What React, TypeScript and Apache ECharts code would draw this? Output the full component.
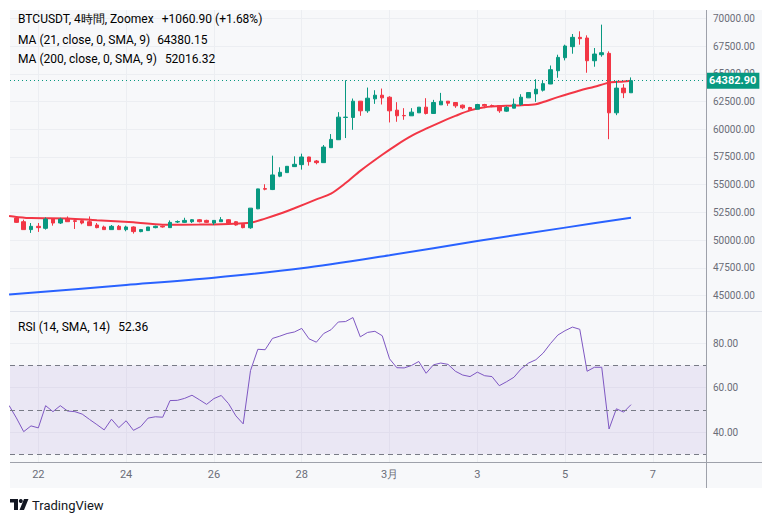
import React, { useEffect, useRef } from 'react';
import * as echarts from 'echarts';

// x position = candle index; index 0 = 22 Feb 00:00, one step = 4 hours
const FIRST_CANDLE = -3;
const OPENS = [
  51995, 51668, 50956, 51253, 51074, 51906, 51550, 51965, 51758, 51758,
  51668, 51371, 51193, 50956, 51253, 50956, 51193, 50777, 50867, 51134,
  51253, 51134, 51640, 51609, 51668, 51847, 51787, 51550, 51668, 51847,
  51668, 51431, 51120, 52830, 54650, 54566, 55770, 56093, 56632, 56811,
  57500, 57141, 56991, 58338, 59057, 61063, 61063, 62530, 61662, 62739,
  63069, 62889, 61722, 61243, 61213, 61482, 61991, 61422, 62200, 62530,
  62410, 62170, 61961, 61811, 62230, 62140, 62140, 61632, 61901, 62230,
  62829, 63188, 63520, 64080, 65275, 66448, 67442, 68284, 68224, 66177,
  66719, 66840, 61482, 63709, 63288,
];
const CLOSES = [
  51609, 50956, 51253, 51134, 51906, 51550, 51906, 51668, 51698, 51550,
  51312, 51134, 50956, 51253, 50956, 51193, 50777, 50956, 51193, 51253,
  51193, 51609, 51680, 51787, 51847, 51668, 51609, 51787, 51847, 51550,
  51371, 51134, 52890, 54626, 54600, 55883, 56123, 56662, 56841, 57500,
  57081, 56991, 58398, 59087, 61093, 61093, 62530, 61662, 62799, 63069,
  62829, 61662, 61213, 61213, 61542, 61991, 61422, 62410, 62530, 62350,
  62111, 61931, 61751, 62230, 62111, 62111, 61662, 61961, 62260, 62889,
  63308, 63608, 64110, 65370, 66478, 67502, 68284, 68164, 66177, 66779,
  66900, 61482, 63709, 63288, 64382.9,
];
const LOWS = [
  51560, 50940, 50659, 50750, 50956, 51312, 51461, 51668, 51015, 51431,
  51312, 51074, 50956, 50956, 50956, 50807, 50599, 50718, 50867, 51074,
  51134, 51134, 51550, 51550, 51550, 51609, 51550, 51371, 51668, 51431,
  51312, 51074, 51030, 52800, 54500, 54520, 55680, 56070, 56600, 56362,
  56722, 56841, 56980, 58320, 59040, 59207, 59955, 61213, 61482, 62290,
  62230, 60614, 60674, 60853, 61200, 61470, 61332, 61410, 62190, 62111,
  61931, 61811, 61660, 61800, 61900, 61990, 61482, 61572, 61890, 62111,
  62820, 62470, 63400, 64070, 64642, 66207, 66809, 67622, 65094, 65636,
  66538, 59104, 61271, 62806, 63288,
];
const HIGHS = [
  52150, 51850, 51550, 51550, 52055, 51965, 52025, 52144, 51965, 51847,
  52144, 51550, 51312, 51371, 51371, 51312, 51253, 51015, 51193, 51312,
  51312, 51787, 51787, 52025, 51906, 51906, 51847, 51787, 52085, 51906,
  51728, 51431, 52900, 54640, 55045, 57620, 56572, 56680, 57560, 57800,
  57520, 57230, 58578, 59566, 61542, 64416, 62769, 62550, 63757, 63518,
  63668, 62979, 62440, 61901, 61901, 62000, 62799, 62650, 63278, 62540,
  62420, 62230, 62020, 62290, 62290, 62230, 62150, 62080, 62769, 63158,
  63320, 64506, 64360, 65745, 66719, 67622, 68585, 68826, 68465, 67321,
  69428, 67020, 64371, 64070, 64672,
];

// moving averages at selected candle positions
const MA21_AT = [-4, -3, -1, 4, 8, 13, 17, 22, 26, 29, 31, 33, 35, 38, 40, 42, 44, 47, 49, 51, 53, 55, 57, 59, 61, 64, 66, 68, 69, 71, 74, 76, 78, 80, 81];
const MA21_VALUES = [52180, 52100, 51995, 51965, 51800, 51609, 51400, 51410, 51470, 51572, 51950, 52380, 52880, 53680, 54200, 55150, 56250, 57700, 58600, 59400, 60050, 60650, 61200, 61700, 61980, 62111, 62170, 62260, 62450, 62900, 63500, 63830, 64200, 64300, 64380.15];
const MA200_AT = [-4, 12, 24, 36, 48, 60, 72, 81];
const MA200_VALUES = [45100, 45963, 46625, 47470, 48651, 49924, 51136, 52016.32];

const RSI_START = -4;
const RSI_VALUES = [
  52.0, 46.4, 40.2, 42.8, 41.9, 51.9, 49.2, 51.9, 49.5, 49.2,
  48.1, 45.7, 43.4, 41.0, 45.8, 42.0, 45.1, 40.8, 42.5, 46.3,
  46.9, 46.7, 54.2, 54.3, 55.2, 56.6, 54.6, 52.5, 55.1, 56.5,
  52.8, 47.3, 43.7, 67.7, 77.3, 77.1, 82.2, 83.2, 84.4, 85.1,
  86.7, 82.0, 80.5, 84.4, 86.1, 89.6, 89.8, 91.6, 82.9, 84.9,
  85.4, 83.4, 73.0, 69.0, 68.9, 70.0, 71.8, 66.5, 70.3, 71.1,
  70.5, 67.4, 65.7, 65.0, 67.0, 65.4, 65.0, 60.9, 62.7, 64.7,
  68.5, 71.1, 72.6, 75.6, 79.9, 83.7, 85.7, 87.3, 86.3, 67.4,
  69.2, 69.2, 41.4, 50.5, 49.0, 52.36,
];

const TIME_TICKS = [0, 12, 24, 36, 48, 60, 72, 84];
const TIME_LABELS = ['22', '24', '26', '28', '3月', '3', '5', '7'];
const PRICE_TICKS = [45000, 47500, 50000, 52500, 55000, 57500, 60000, 62500, 65000, 67500, 70000];
const RSI_TICKS = [40, 60, 80];
const RSI_LEVELS = [70, 50, 30];

const LAST_PRICE = 64382.9;
const TITLE = 'BTCUSDT, 4時間, Zoomex';
const CHANGE = '+1060.90 (+1.68%)';
const MA21_TITLE = 'MA (21, close, 0, SMA, 9)';
const MA21_LAST = '64380.15';
const MA200_TITLE = 'MA (200, close, 0, SMA, 9)';
const MA200_LAST = '52016.32';
const RSI_TITLE = 'RSI (14, SMA, 14)';
const RSI_LAST = '52.36';

const UP = '#089981';
const DOWN = '#f23645';
const GRID = '#eceef2';
const TXT = '#6a6d78';
const FONT = 'Roboto';

export default function App() {
  const ref = useRef<HTMLDivElement>(null);
  useEffect(() => {
    const chart = echarts.init(ref.current!, null, { renderer: 'svg' });
    const candles = OPENS.map((o, i) => [FIRST_CANDLE + i, o, CLOSES[i], LOWS[i], HIGHS[i]]);
    const ma21 = MA21_AT.map((x, i) => [x, MA21_VALUES[i]]);
    const ma200 = MA200_AT.map((x, i) => [x, MA200_VALUES[i]]);
    const rsi = RSI_VALUES.map((v, i) => [RSI_START + i, v]);
    const xMin = -3.87;
    const xMax = 91.25;
    const xCommon = {
      type: 'value',
      min: xMin,
      max: xMax,
      axisLine: { show: false },
      axisTick: { show: false, customValues: TIME_TICKS },
      splitLine: { show: true, lineStyle: { color: GRID, width: 1 } },
    };
    const gray = { color: TXT, fontFamily: FONT };
    chart.setOption({
      animation: false,
      backgroundColor: 'transparent',
      textStyle: { fontFamily: FONT },
      grid: [
        { left: 10, right: 66, top: 10, height: 301.5 },
        { left: 10, right: 66, top: 311.5, height: 150.5 },
      ],
      xAxis: [
        { ...xCommon, gridIndex: 0, axisLabel: { show: false, customValues: TIME_TICKS } },
        {
          ...xCommon,
          gridIndex: 1,
          axisLabel: {
            show: true,
            customValues: TIME_TICKS,
            formatter: (v: number) => TIME_LABELS[TIME_TICKS.indexOf(v)] ?? '',
            color: TXT,
            fontSize: 11,
            margin: 7,
            fontFamily: FONT,
          },
        },
      ],
      yAxis: [
        {
          type: 'value',
          gridIndex: 0,
          position: 'right',
          min: 43576,
          max: 70748,
          axisLine: { show: false },
          axisTick: { show: false, customValues: PRICE_TICKS },
          axisLabel: { customValues: PRICE_TICKS, formatter: (v: number) => v.toFixed(2), fontSize: 10, margin: 7, ...gray },
          splitLine: { show: true, lineStyle: { color: GRID } },
        },
        {
          type: 'value',
          gridIndex: 1,
          position: 'right',
          min: 26.53,
          max: 94.32,
          axisLine: { show: false },
          axisTick: { show: false, customValues: RSI_TICKS },
          axisLabel: { customValues: RSI_TICKS, formatter: (v: number) => v.toFixed(2), fontSize: 10, margin: 7, ...gray },
          splitLine: { show: true, lineStyle: { color: GRID } },
        },
      ],
      series: [
        {
          type: 'line',
          name: 'MA200',
          xAxisIndex: 0,
          yAxisIndex: 0,
          data: ma200,
          showSymbol: false,
          smooth: 0.3,
          lineStyle: { color: '#2962ff', width: 2 },
          z: 3,
        },
        {
          type: 'line',
          name: 'MA21',
          xAxisIndex: 0,
          yAxisIndex: 0,
          data: ma21,
          showSymbol: false,
          smooth: 0.3,
          lineStyle: { color: DOWN, width: 2 },
          z: 3,
          markLine: {
            silent: true,
            symbol: ['none', 'none'],
            lineStyle: { color: UP, type: [1, 3], width: 1 },
            data: [{ yAxis: LAST_PRICE }],
            label: {
              show: true,
              position: 'end',
              distance: 0,
              formatter: LAST_PRICE.toFixed(2),
              color: '#ffffff',
              backgroundColor: UP,
              padding: [3, 3, 2, 3],
              fontSize: 11,
              fontWeight: 'bold',
              fontFamily: FONT,
            },
          },
        },
        {
          type: 'candlestick',
          xAxisIndex: 0,
          yAxisIndex: 0,
          data: candles,
          encode: { x: 0, y: [1, 2, 3, 4] },
          barWidth: 4,
          itemStyle: { color: UP, color0: DOWN, borderColor: UP, borderColor0: DOWN, borderWidth: 1 },
          z: 4,
        },
        {
          type: 'line',
          name: 'RSI',
          xAxisIndex: 1,
          yAxisIndex: 1,
          data: rsi,
          showSymbol: false,
          lineStyle: { color: '#7e57c2', width: 1 },
          markArea: {
            silent: true,
            itemStyle: { color: 'rgba(126,87,194,0.1)' },
            data: [[{ yAxis: RSI_LEVELS[2] }, { yAxis: RSI_LEVELS[0] }]],
          },
          markLine: {
            silent: true,
            symbol: ['none', 'none'],
            label: { show: false },
            lineStyle: { color: '#787b86', type: [5, 4], width: 1 },
            data: RSI_LEVELS.map((v) => ({ yAxis: v })),
          },
        },
      ],
      graphic: [
        { type: 'line', shape: { x1: 10, y1: 311.5, x2: 762, y2: 311.5 }, style: { stroke: '#e0e3eb', lineWidth: 1 }, z: 10 },
        { type: 'line', shape: { x1: 10, y1: 462.5, x2: 762, y2: 462.5 }, style: { stroke: '#9ea1aa', lineWidth: 1 }, z: 10 },
        { type: 'line', shape: { x1: 706.5, y1: 10, x2: 706.5, y2: 488 }, style: { stroke: '#9ea1aa', lineWidth: 1 }, z: 10 },
        {
          type: 'text',
          x: 18,
          y: 19,
          style: {
            text: `{a|${TITLE}}{b|${CHANGE}}`,
            verticalAlign: 'middle',
            rich: {
              a: { fontSize: 12, color: TXT, fontFamily: FONT },
              b: { fontSize: 12, color: UP, fontFamily: FONT, padding: [0, 0, 0, 8] },
            },
          },
          z: 20,
        },
        {
          type: 'text',
          x: 18,
          y: 39.5,
          style: {
            text: `{a|${MA21_TITLE}}{b|${MA21_LAST}}`,
            verticalAlign: 'middle',
            rich: {
              a: { fontSize: 12, color: TXT, fontFamily: FONT },
              b: { fontSize: 12, color: DOWN, fontFamily: FONT, padding: [0, 0, 0, 7] },
            },
          },
          z: 20,
        },
        {
          type: 'text',
          x: 18,
          y: 58.5,
          style: {
            text: `{a|${MA200_TITLE}}{b|${MA200_LAST}}`,
            verticalAlign: 'middle',
            rich: {
              a: { fontSize: 12, color: TXT, fontFamily: FONT },
              b: { fontSize: 12, color: '#2962ff', fontFamily: FONT, padding: [0, 0, 0, 8] },
            },
          },
          z: 20,
        },
        {
          type: 'text',
          x: 18,
          y: 326.5,
          style: {
            text: `{a|${RSI_TITLE}}{b|${RSI_LAST}}`,
            verticalAlign: 'middle',
            rich: {
              a: { fontSize: 12, color: TXT, fontFamily: FONT },
              b: { fontSize: 12, color: '#7e57c2', fontFamily: FONT, padding: [0, 0, 0, 8] },
            },
          },
          z: 20,
        },
        {
          type: 'group',
          x: 10,
          y: 499,
          children: [
            { type: 'rect', shape: { x: 0, y: 0, width: 8, height: 3.5 }, style: { fill: '#131722' } },
            { type: 'rect', shape: { x: 4, y: 0, width: 4, height: 11 }, style: { fill: '#131722' } },
            { type: 'circle', shape: { cx: 10.8, cy: 2, r: 2 }, style: { fill: '#131722' } },
            { type: 'polygon', shape: { points: [[14, 0], [18.5, 0], [14, 11], [9.5, 11]] }, style: { fill: '#131722' } },
          ],
        },
        {
          type: 'text',
          x: 32,
          y: 505.5,
          style: { text: 'TradingView', fontSize: 13, fill: '#131722', fontFamily: FONT, verticalAlign: 'middle' },
        },
      ],
    });
    return () => chart.dispose();
  }, []);
  return (
    <div style={{ position: 'absolute', left: 0, top: 0, width: 772, height: 523, background: '#ffffff' }}>
      <div style={{ position: 'absolute', left: 10, top: 10, width: 752, height: 478, background: '#f7f8fa' }} />
      <div ref={ref} style={{ position: 'absolute', left: 0, top: 0, width: 772, height: 523 }} />
    </div>
  );
}
